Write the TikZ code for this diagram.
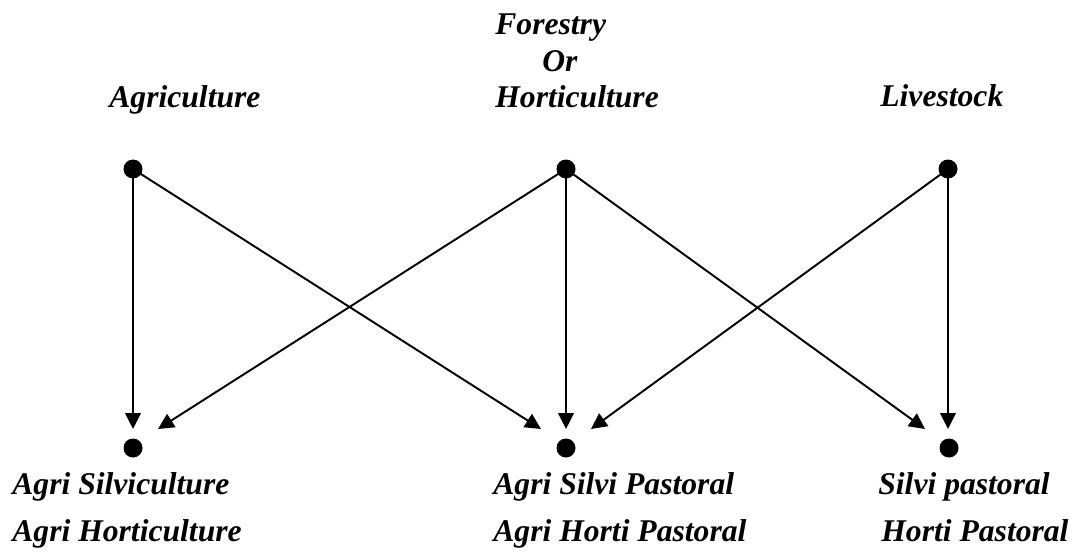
\documentclass[tikz,border=0pt]{standalone}
\usepackage{fontspec}
\setmainfont{Liberation Serif}
\usetikzlibrary{arrows.meta}
\tikzset{
  dot/.style={circle,fill=black,inner sep=0pt,minimum size=19*0.02cm},
  lbl/.style={anchor=base west,inner sep=0pt,font=\fontsize{18}{21}\selectfont\bfseries\itshape},
  conn/.style={line width=1.1pt,-{Triangle[length=9pt,width=8.8pt]}}
}
\begin{document}
\begin{tikzpicture}[x=0.02cm,y=-0.02cm]
\useasboundingbox (0,0) rectangle (1075,554);
% labels top
\node[lbl] (tAgri) at (109,108) {Agriculture};
\node[lbl] (tFor) at (495,35) {Forestry};
\node[lbl] (tOr) at (542,72) {Or};
\node[lbl] (tHort) at (495,108) {Horticulture};
\node[lbl] (tLive) at (880,107) {Livestock};
% labels bottom
\node[lbl] (bA1) at (12,494) {Agri Silviculture};
\node[lbl] (bA2) at (12,541) {Agri Horticulture};
\node[lbl] (bB1) at (493,494) {Agri Silvi Pastoral};
\node[lbl] (bB2) at (493,541) {Agri Horti Pastoral};
\node[lbl] (bC1) at (878,494) {Silvi pastoral};
\node[lbl] (bC2) at (881,541) {Horti Pastoral};
% dots
\node[dot] (A) at (133,169) {};
\node[dot] (F) at (566,169) {};
\node[dot] (L) at (948,169) {};
\node[dot] (P) at (133,448) {};
\node[dot] (Q) at (566,448) {};
\node[dot] (R) at (949,448) {};
% arrow targets
\coordinate (P0) at (133,429);
\coordinate (P1) at (158,429);
\coordinate (Q0) at (541,429);
\coordinate (Q1) at (566,429);
\coordinate (Q2) at (591,429);
\coordinate (R0) at (925,429);
\coordinate (R1) at (948,429);
% connectors
\draw[conn] (A.center) -- (P0);
\draw[conn] (A.center) -- (Q0);
\draw[conn] (F.center) -- (P1);
\draw[conn] (F.center) -- (Q1);
\draw[conn] (F.center) -- (R0);
\draw[conn] (L.center) -- (Q2);
\draw[conn] (L.center) -- (R1);
\end{tikzpicture}
\end{document}
